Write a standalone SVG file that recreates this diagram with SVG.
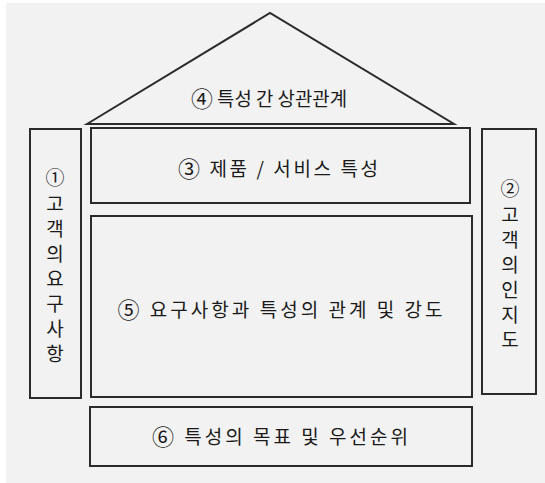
<svg xmlns="http://www.w3.org/2000/svg" width="545" height="483" viewBox="0 0 545 483">
<style>
.bx{fill:none;stroke:#2b2b2b;stroke-width:2}
.t{font-family:"Noto Sans CJK KR","Noto Sans",sans-serif;font-size:19px;fill:#1a1a1a;text-anchor:middle;dominant-baseline:central}
.n{font-size:22px}
</style>
<rect x="0" y="0" width="545" height="483" fill="#ffffff"/>
<rect x="6" y="3" width="539" height="480" fill="#f2f2f2"/>
<g id="roof">
<polygon class="bx" points="87,124 270,13 454,124"/>
<text class="t" x="269" y="97" textLength="156" lengthAdjust="spacingAndGlyphs"><tspan class="n">④</tspan> 특성 간 상관관계</text>
</g>
<g id="product">
<rect class="bx" x="91" y="128" width="379" height="75"/>
<text class="t" x="278" y="167" textLength="200" lengthAdjust="spacing"><tspan class="n">③</tspan> 제품 / 서비스 특성</text>
</g>
<g id="requirements">
<rect class="bx" x="30" y="129" width="51" height="269"/>
<text class="t" x="55" y="176">①</text>
<text class="t" x="55" y="202">고</text>
<text class="t" x="55" y="227">객</text>
<text class="t" x="55" y="252">의</text>
<text class="t" x="55" y="277">요</text>
<text class="t" x="55" y="302">구</text>
<text class="t" x="55" y="327">사</text>
<text class="t" x="55" y="352">항</text>
</g>
<g id="perception">
<rect class="bx" x="482" y="129" width="54" height="265"/>
<text class="t" x="510" y="187">②</text>
<text class="t" x="510" y="213">고</text>
<text class="t" x="510" y="238">객</text>
<text class="t" x="510" y="263">의</text>
<text class="t" x="510" y="288">인</text>
<text class="t" x="510" y="313">지</text>
<text class="t" x="510" y="338">도</text>
</g>
<g id="relationship">
<rect class="bx" x="91" y="216" width="381" height="181"/>
<text class="t" x="280" y="308" textLength="325" lengthAdjust="spacing"><tspan class="n">⑤</tspan> 요구사항과 특성의 관계 및 강도</text>
</g>
<g id="targets">
<rect class="bx" x="90" y="407" width="382" height="59"/>
<text class="t" x="280" y="435" textLength="256" lengthAdjust="spacing"><tspan class="n">⑥</tspan> 특성의 목표 및 우선순위</text>
</g>
</svg>
